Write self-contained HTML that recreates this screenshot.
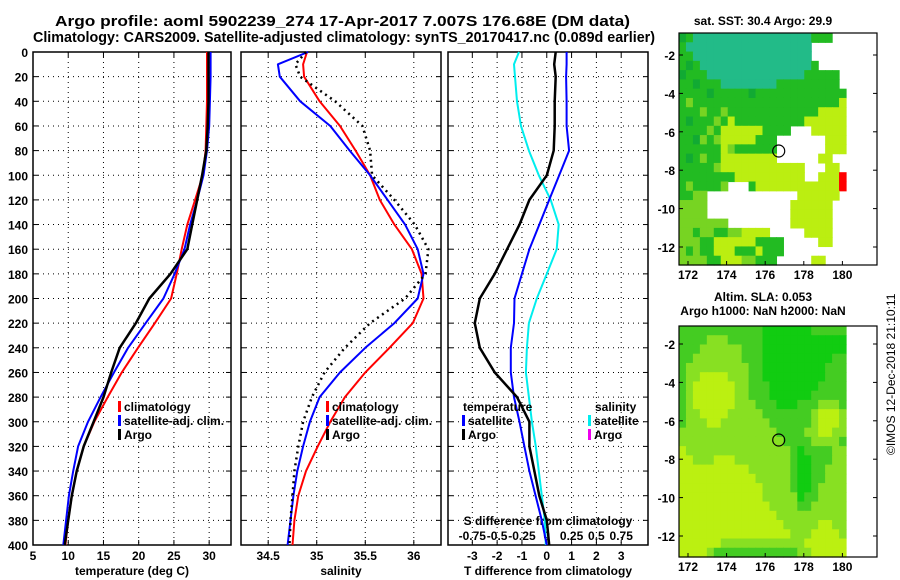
<!DOCTYPE html>
<html><head><meta charset="utf-8"><style>
body{margin:0;background:#fff}
svg{display:block;font-family:"Liberation Sans",sans-serif;font-weight:bold}
</style></head><body>
<svg id="c" width="900" height="580" viewBox="0 0 900 580">
<text x="55" y="26" font-size="14.5" textLength="575" lengthAdjust="spacingAndGlyphs">Argo profile: aoml 5902239_274 17-Apr-2017 7.007S 176.68E (DM data)</text>
<text x="33" y="42" font-size="14.5" textLength="622" lengthAdjust="spacingAndGlyphs">Climatology: CARS2009. Satellite-adjusted climatology: synTS_20170417.nc (0.089d earlier)</text>
<text x="132" y="575" font-size="12" text-anchor="middle">temperature (deg C)</text>
<text x="341" y="575" font-size="12" text-anchor="middle">salinity</text>
<text x="548" y="575" font-size="12" text-anchor="middle">T difference from climatology</text>
<text x="548" y="525" font-size="12" text-anchor="middle">S difference from climatology</text>
<text x="763" y="25" font-size="12" text-anchor="middle">sat. SST: 30.4 Argo: 29.9</text>
<text x="763" y="301" font-size="12" text-anchor="middle">Altim. SLA: 0.053</text>
<text x="763" y="315" font-size="12" text-anchor="middle">Argo h1000: NaN h2000: NaN</text>
<text transform="translate(895,455) rotate(-90)" font-size="12" font-weight="normal">©IMOS 12-Dec-2018 21:10:11</text>
</svg>
<script>
const depths=[0,10,20,40,60,80,100,120,140,160,180,200,220,240,260,280,300,320,340,360,380,400];
const tArgo=[29.9,29.9,29.9,29.9,29.8,29.6,29.0,28.3,27.6,26.9,24.5,21.5,19.6,17.3,16.1,15.0,13.6,12.2,11.2,10.5,10.0,9.5];
const tSat=[30.2,30.2,30.2,30.1,30.0,29.7,29.2,28.3,27.3,26.5,25.1,23.5,21.0,18.5,16.5,14.6,12.8,11.4,10.7,10.1,9.7,9.3];
const tClim=[29.7,29.7,29.7,29.7,29.6,29.5,29.1,28.0,26.9,26.1,25.4,24.6,22.3,19.9,17.6,15.6,13.7,12.2,11.2,10.5,10.0,9.6];
const sArgo=[34.89,34.78,34.83,35.19,35.47,35.55,35.57,35.8,36.01,36.15,36.12,35.91,35.55,35.29,35.08,34.95,34.86,34.81,34.77,34.75,34.73,34.72];
const sSat=[34.91,34.6,34.62,34.83,35.14,35.34,35.55,35.73,35.91,36.04,36.1,36.04,35.8,35.5,35.24,35.03,34.93,34.86,34.8,34.76,34.73,34.7];
const sClim=[34.9,34.86,34.87,35.03,35.24,35.4,35.55,35.65,35.8,35.98,36.08,36.1,35.99,35.75,35.5,35.29,35.14,35.01,34.89,34.81,34.77,34.75];
const dtArgo=[0.36,0.3,0.36,0.32,0.32,0.28,0,-0.7,-1.1,-1.6,-2.1,-2.7,-2.9,-2.7,-2.1,-1.2,-0.7,-0.7,-0.5,-0.3,0,0.1];
const dtSat=[0.8,0.8,0.78,0.8,0.8,0.9,0.5,0.1,-0.3,-0.7,-1.0,-1.3,-1.32,-1.45,-1.45,-1.32,-1.1,-0.9,-0.7,-0.45,-0.2,0];
const dsSat=[-0.28,-0.33,-0.32,-0.3,-0.26,-0.18,-0.08,0.04,0.12,0.1,0,-0.1,-0.18,-0.2,-0.21,-0.18,-0.15,-0.11,-0.08,-0.05,-0.02,-0.01];
const depthTicks=[0,20,40,60,80,100,120,140,160,180,200,220,240,260,280,300,320,340,360,380,400];
const tTicks=[5,10,15,20,25,30];
const sTicks=[34.5,35,35.5,36];
const dtTicks=[-3,-2,-1,0,1,2,3];
const dsTicks=[-0.75,-0.5,-0.25,0,0.25,0.5,0.75];
const dsLabels=["-0.75","-0.5","-0.25","0","0.25","0.5","0.75"];
const latTicks=[-2,-4,-6,-8,-10,-12];
const lonTicks=[172,174,176,178,180];
const sstGrid=[
"gGTTTTTTTTTTTTTTTTTGGG..",
"GTTTTTTTTTTTTTTTTTT.....",
"GGTTTTTTTTTTTTTTTTT.....",
"GgGTTTTTTTTTTTTTTTTG....",
"gGGGTTTTTTTTTTTTTTGGGGG.",
"GGgGGGTTTTTTTTGGGGGGGGG.",
"GGGGgGGGGGgGGGGGGGGGGGGG",
"GLGGGGGGGGGGGGGGGGGGGGGY",
"GGGLGGLGGGGGGGGGGGGGYYYY",
"GgGGGLGYGGGGGGGGGGYYYYYY",
"GGGGLGYYYYYYGGGG...YYYYY",
"GGgLGLYYYYYGGG.......YYY",
"GGGGGGYLGGGGGG.......YYY",
"GgGLGGYYYYYYYY......YY..",
"GGGGGLYYYYYYYYYYYY...YY.",
"GGGGGGGGYYYYYYYYYY..YYYR",
"GLGGGGL...GYYYYYYYYYYYYR",
"GGLL.............YYYYYY.",
"LLLL............YYYYYY..",
"LLLL............YYYYYY..",
"LLLLLLL.........YYYYYY..",
"LLGLLGGLLYYYY.....YYYY..",
"LLLGGYYYYYYGGGG.....YY..",
"LGLGGYYYGGGYGGG.........",
"LLLLGGYYYLLGGG.....YY..."];
const slaGrid=[
"GGGGGGGGGGGGgggggggGGGGG",
"GGGGLLLGGGGGgggggggggggg",
"GGGLLLLLLGGGgggggggggggg",
"GGLLLLLLLGGGggggggggggGG",
"GLLLLLLLLLGGgggggggggGGG",
"GLLYYYYLLLGGgggggggggGGG",
"GLYYYYYYLLGGGgggggggGGGG",
"GLYYYYYYLLGGGggggggGGGGG",
"GLYYYYYYLLLGGGgggGGGLLLG",
"GLLYYYYLLLLLGGGGGGGLYYYL",
"GLLLYYLLLLLLLGGGGGGLYYYL",
"LLLLLLLLLLLLLLGGGGLLYYLL",
"LLLLLLLLLLLLLLLGGGGLLLLG",
"YLLLLLLLLLLLLLLLGgGGGGLL",
"YYLLLYYYLLLLLLLLGggGGGLL",
"YYYYYYYYYYLLLLLLGggGGLLL",
"YYYYYYYYYYYLLLLLGggGGLLL",
"YYYYYYYYYYYYLLLLGggGLLLL",
"YYYYYYYYYYYYLLLLLgGGLLLL",
"YYYYYYYYYYYYYLLLLGGLLLLL",
"YYYYYYYYYYYYYYLLLLLLLLLL",
"YYYYYYYYYYYYYYYLLLLLYYLL",
"YYYYYYYYYYYYYYYYLLLYYYYL",
"YYYYYYLLLLLLLLLLLLYYYYYY",
"YYYYLGGGGGGGGGGGGLLYYYYY"];
const sstCol={T:"#22bb88",G:"#22bb22",g:"#11aa33",L:"#77d422",Y:"#bbee11",R:"#ff0000"};
const slaCol={G:"#44cc22",g:"#11cc11",L:"#88e022",Y:"#bbf011"};
const argoLon=176.7, argoLat=-7.0;

const NS="http://www.w3.org/2000/svg";
const svg=document.getElementById('c');
function mk(tag,attrs,parent){const e=document.createElementNS(NS,tag);for(const k in attrs)e.setAttribute(k,attrs[k]);(parent||svg).appendChild(e);return e;}
const top0=52,bot0=545;
const yD=d=>top0+(bot0-top0)*d/400;

function panel(name,x0,x1,xmin,xmax,xticks,xlabels,ylabels){
  const g=mk('g',{});
  
  
  const xs=v=>x0+(x1-x0)*(v-xmin)/(xmax-xmin);
  depthTicks.forEach(d=>{
    if(d>0&&d<400){const l=mk('line',{x1:x0,x2:x1,y1:yD(d),y2:yD(d),stroke:'#000','stroke-dasharray':'1,4'},g);
    
    }
    const t=mk('line',{x1:x0,x2:x0+5,y1:yD(d),y2:yD(d),stroke:'#000'},g);
    
    
    mk('line',{x1:x1-5,x2:x1,y1:yD(d),y2:yD(d),stroke:'#000'},g);
    if(ylabels){const tx=mk('text',{x:x0-5,y:yD(d)+5,'font-size':12,'text-anchor':'end'},g);tx.textContent=d;
    
    }
  });
  xticks.forEach((v,i)=>{
    const x=xs(v);
    const l=mk('line',{x1:x,x2:x,y1:top0,y2:bot0,stroke:'#000','stroke-dasharray':'1,4'},g);
    
    
    mk('line',{x1:x,x2:x,y1:bot0-5,y2:bot0,stroke:'#000'},g);
    mk('line',{x1:x,x2:x,y1:top0,y2:top0+5,stroke:'#000'},g);
    const tx=mk('text',{x:x,y:560,'font-size':12,'text-anchor':'middle'},g);tx.textContent=xlabels[i];
    
    
  });
  const r=mk('rect',{x:x0,y:top0,width:x1-x0,height:bot0-top0,fill:'none',stroke:'#000','stroke-width':1.5},g);
  
  
  return {g,xs};
}
function line(p,vals,color,name,w,dash,xs){
  const f=xs||p.xs;
  const pts=vals.map((v,i)=>f(v).toFixed(1)+','+yD(depths[i]).toFixed(1)).join(' ');
  const a={points:pts,fill:'none',stroke:color,'stroke-width':w||2,'stroke-linejoin':'round'};
  if(dash)a['stroke-dasharray']=dash;
  const e=mk('polyline',a,p.g);
  
  
}
function legend(g,x,y,color,label,name){
  const m=mk('rect',{x:x,y:y-10,width:3,height:11,fill:color},g);
  
  
  const t=mk('text',{x:x+6,y:y,'font-size':12},g);t.textContent=label;
  
  
}
const p1=panel('temperature-panel',33,231,5,33.1,tTicks,tTicks.map(String),true);
line(p1,tClim,'#f00','climatology-temp-line');
line(p1,tSat,'#00f','satellite-temp-line');
line(p1,tArgo,'#000','argo-temp-line',2.5);
legend(p1.g,118,411,'#f00','climatology','legend-climatology');
legend(p1.g,118,425,'#00f','satellite-adj. clim.','legend-satellite');
legend(p1.g,118,439,'#000','Argo','legend-argo');
const p2=panel('salinity-panel',241,441,34.22,36.28,sTicks,["34.5","35","35.5","36"],false);
line(p2,sClim,'#f00','climatology-salinity-line');
line(p2,sSat,'#00f','satellite-salinity-line');
line(p2,sArgo,'#000','argo-salinity-line',2.5,'2,4');
legend(p2.g,326,411,'#f00','climatology','legend-climatology');
legend(p2.g,326,425,'#00f','satellite-adj. clim.','legend-satellite');
legend(p2.g,326,439,'#000','Argo','legend-argo');
const p3=panel('difference-panel',448,648,-3.98,4.08,dtTicks,dtTicks.map(String),false);
const xsS=v=>p3.xs(v*4);
dsTicks.forEach((v,i)=>{const t=mk('text',{x:xsS(v),y:540,'font-size':12,'text-anchor':'middle'},p3.g);t.textContent=dsLabels[i];

});
line(p3,dsSat,'#0ee','satellite-s-diff-line',2,null,xsS);
line(p3,dtSat,'#00f','satellite-t-diff-line');
line(p3,dtArgo,'#000','argo-t-diff-line',2.5);
{const t=mk('text',{x:463,y:411,'font-size':12},p3.g);t.textContent='temperature';

}
{const t=mk('text',{x:595,y:411,'font-size':12},p3.g);t.textContent='salinity';

}
legend(p3.g,462,425,'#00f','satellite','legend-t-satellite');
legend(p3.g,462,439,'#000','Argo','legend-t-argo');
legend(p3.g,588,425,'#0ee','satellite','legend-s-satellite');
legend(p3.g,588,439,'#e0e','Argo','legend-s-argo');

function map(name,y0,y1,latTop,grid,cols){
  const x0=679,x1=877;
  const lonX=l=>688+(l-172)*19.3;
  const latY=l=>latTop+(-2-l)*19.2;
  const g=mk('g',{});
  
  
  const nc=grid[0].length, nr=grid.length;
  const dx=(846-x0)/nc, dy=(y1-y0)/nr;
  grid.forEach((row,r)=>{for(let c=0;c<nc;c++){const ch=row[c];if(ch==='.')continue;
    const e=mk('rect',{x:x0+c*dx,y:y0+r*dy,width:dx+0.6,height:dy+0.6,fill:cols[ch]},g);
    
    }});
  const fr=mk('rect',{x:x0,y:y0,width:x1-x0,height:y1-y0,fill:'none',stroke:'#000','stroke-width':1.2},g);
  
  
  latTicks.forEach(l=>{const y=latY(l);mk('line',{x1:x0,x2:x0+4,y1:y,y2:y,stroke:'#000'},g);mk('line',{x1:x1-4,x2:x1,y1:y,y2:y,stroke:'#000'},g);
    const t=mk('text',{x:x0-4,y:y+5,'font-size':12,'text-anchor':'end'},g);t.textContent=l;
    
    });
  lonTicks.forEach(l=>{const x=lonX(l);mk('line',{x1:x,x2:x,y1:y1-4,y2:y1,stroke:'#000'},g);
    const t=mk('text',{x:x,y:y1+14,'font-size':12,'text-anchor':'middle'},g);t.textContent=l;
    
    });
  const c=mk('circle',{cx:lonX(argoLon),cy:latY(argoLat),r:6,fill:'none',stroke:'#000','stroke-width':1.2},g);
  
  
}
map('sst-map',33,265,55,sstGrid,sstCol);
map('sla-map',326,557,344,slaGrid,slaCol);
</script>
</body></html>
